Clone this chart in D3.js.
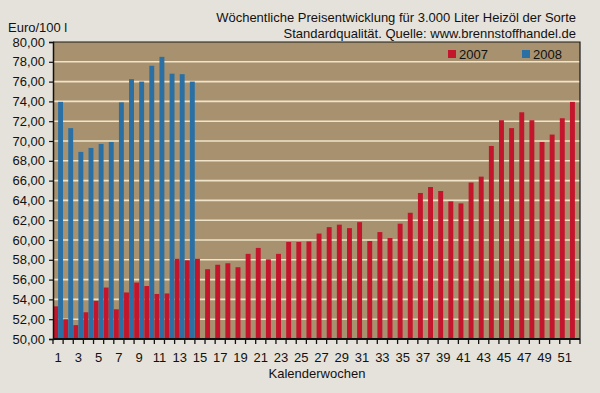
<!DOCTYPE html>
<html>
<head>
<meta charset="utf-8">
<script src="https://cdn.jsdelivr.net/npm/d3@7"></script>
<style>
  body { margin: 0; background: #e5e2db; }
  text { font-family: "Liberation Sans", Arial, sans-serif; fill: #111; }
</style>
</head>
<body>
<div class="container"></div>
<script>
  // data (Euro per 100 l, weekly)
  var weeks = [1,2,3,4,5,6,7,8,9,10,11,12,13,14,15,16,17,18,19,20,21,22,23,24,25,26,
    27,28,29,30,31,32,33,34,35,36,37,38,39,40,41,42,43,44,45,46,47,48,49,50,51,52];
  var preis2007 = [53.3, 52.0, 51.4, 52.7, 53.85, 55.2, 53.0, 54.7, 55.7, 55.35, 54.55, 54.6,
    58.1, 57.95, 58.1, 57.05, 57.5, 57.65, 57.25, 58.6,
    59.2, 58.05, 58.6, 59.8, 59.8, 59.85, 60.65, 61.3, 61.55, 61.2,
    61.8, 59.9, 60.8, 60.2, 61.65, 62.75, 64.75, 65.35, 64.95, 63.9,
    63.7, 65.8, 66.4, 69.5, 72.1, 71.3, 72.9, 72.1, 69.9, 70.65, 72.3, 73.95];
  var preis2008 = [73.95, 71.3, 68.9, 69.3, 69.7, 69.9, 73.9, 76.25, 76.0, 77.6, 78.5, 76.8, 76.75, 76.0];
  var series = ["2007", "2008"];
  var yTicks = [50,52,54,56,58,60,62,64,66,68,70,72,74,76,78,80];
  var xLabels = [1,3,5,7,9,11,13,15,17,19,21,23,25,27,29,31,33,35,37,39,41,43,45,47,49,51];

  var colors = {"2007": "#c3152b", "2008": "#2a70a4"};

  // frame
  var w = 600, h = 393;
  var m = {top: 42, right: 20, bottom: 54, left: 53};
  var svg = d3.select(".container").append("svg").attr("width", w).attr("height", h);

  var x = d3.scaleBand().domain(weeks).range([m.left, w - m.right]).paddingInner(0).paddingOuter(0);
  var xSub = d3.scaleBand().domain(series).range([0, x.bandwidth()]).padding(0.02);
  var y = d3.scaleLinear().domain([50, 80]).range([h - m.bottom, m.top]);

  // plot background
  svg.append("rect")
    .attr("x", m.left).attr("y", m.top)
    .attr("width", w - m.left - m.right).attr("height", h - m.top - m.bottom)
    .attr("fill", "#a8916f");

  // grid lines
  svg.append("g").selectAll("line")
    .data(yTicks.filter(function(d){ return d > 50 && d < 80; }))
    .enter().append("line")
    .attr("x1", m.left).attr("x2", w - m.right)
    .attr("y1", function(d){ return y(d); }).attr("y2", function(d){ return y(d); })
    .attr("stroke", "#efe4c9").attr("stroke-width", 1.6);

  // bars
  var rows = weeks.map(function(wk, i){
    var r = [{s: "2007", wk: wk, v: preis2007[i]}];
    if (i < preis2008.length) r.push({s: "2008", wk: wk, v: preis2008[i]});
    return r;
  });

  svg.append("g").selectAll("g")
    .data(rows).enter().append("g")
    .attr("transform", function(d){ return "translate(" + x(d[0].wk) + ",0)"; })
    .selectAll("rect")
    .data(function(d){ return d; })
    .enter().append("rect")
    .attr("x", function(d){ return xSub(d.s); })
    .attr("width", xSub.bandwidth())
    .attr("y", function(d){ return y(d.v); })
    .attr("height", function(d){ return y(50) - y(d.v); })
    .attr("fill", function(d){ return colors[d.s]; });

  // frame lines top/right
  svg.append("path")
    .attr("d", "M" + m.left + "," + m.top + "H" + (w - m.right) + "V" + (h - m.bottom))
    .attr("fill", "none").attr("stroke", "#1a1a1a").attr("stroke-width", 1.2);

  // y axis
  var yAxis = svg.append("g")
    .attr("transform", "translate(" + m.left + ",0)")
    .call(d3.axisLeft(y).tickValues(yTicks).tickSize(4).tickPadding(4)
      .tickFormat(function(d){ return d.toFixed(2).replace(".", ","); }));
  yAxis.select(".domain").attr("stroke", "#111").attr("stroke-width", 1.5);
  yAxis.selectAll("line").attr("stroke", "#111").attr("stroke-width", 1.2);
  yAxis.selectAll("text").attr("font-size", 13).attr("fill", "#111")
    .style("font-family", "Liberation Sans, Arial, sans-serif");

  // x axis: line, ticks at week boundaries, labels on odd weeks
  var base = y(50);
  svg.append("line")
    .attr("x1", m.left).attr("x2", w - m.right)
    .attr("y1", base).attr("y2", base)
    .attr("stroke", "#111").attr("stroke-width", 1.8);
  svg.append("g").selectAll("line")
    .data(weeks.concat([null])).enter().append("line")
    .attr("x1", function(d){ return d === null ? x.range()[1] : x(d); })
    .attr("x2", function(d){ return d === null ? x.range()[1] : x(d); })
    .attr("y1", base).attr("y2", base + 5)
    .attr("stroke", "#111").attr("stroke-width", 1.3);
  svg.append("g").selectAll("text")
    .data(xLabels).enter().append("text")
    .attr("x", function(d){ return x(d) + x.bandwidth() / 2; })
    .attr("y", base + 23)
    .attr("text-anchor", "middle").attr("font-size", 13)
    .text(function(d){ return d; });

  svg.append("text")
    .attr("x", 317).attr("y", 378)
    .attr("text-anchor", "middle").attr("font-size", 13)
    .text("Kalenderwochen");

  svg.append("text")
    .attr("x", 8).attr("y", 32)
    .attr("font-size", 13)
    .text("Euro/100 l");

  // title
  var title = svg.append("text").attr("text-anchor", "end").attr("font-size", 13);
  title.append("tspan").attr("x", 576).attr("y", 22)
    .text("Wöchentliche Preisentwicklung für 3.000 Liter Heizöl der Sorte");
  title.append("tspan").attr("x", 576).attr("y", 38)
    .text("Standardqualität. Quelle: www.brennstoffhandel.de");

  // legend
  var legendX = {"2007": 448, "2008": 522};
  var lg = svg.append("g").selectAll("g")
    .data(series).enter().append("g")
    .attr("transform", function(d){ return "translate(" + legendX[d] + ",50)"; });
  lg.append("rect").attr("width", 8).attr("height", 8)
    .attr("fill", function(d){ return colors[d]; });
  lg.append("text").attr("x", 11).attr("y", 8.5).attr("font-size", 13)
    .text(function(d){ return d; });
</script>
</body>
</html>
